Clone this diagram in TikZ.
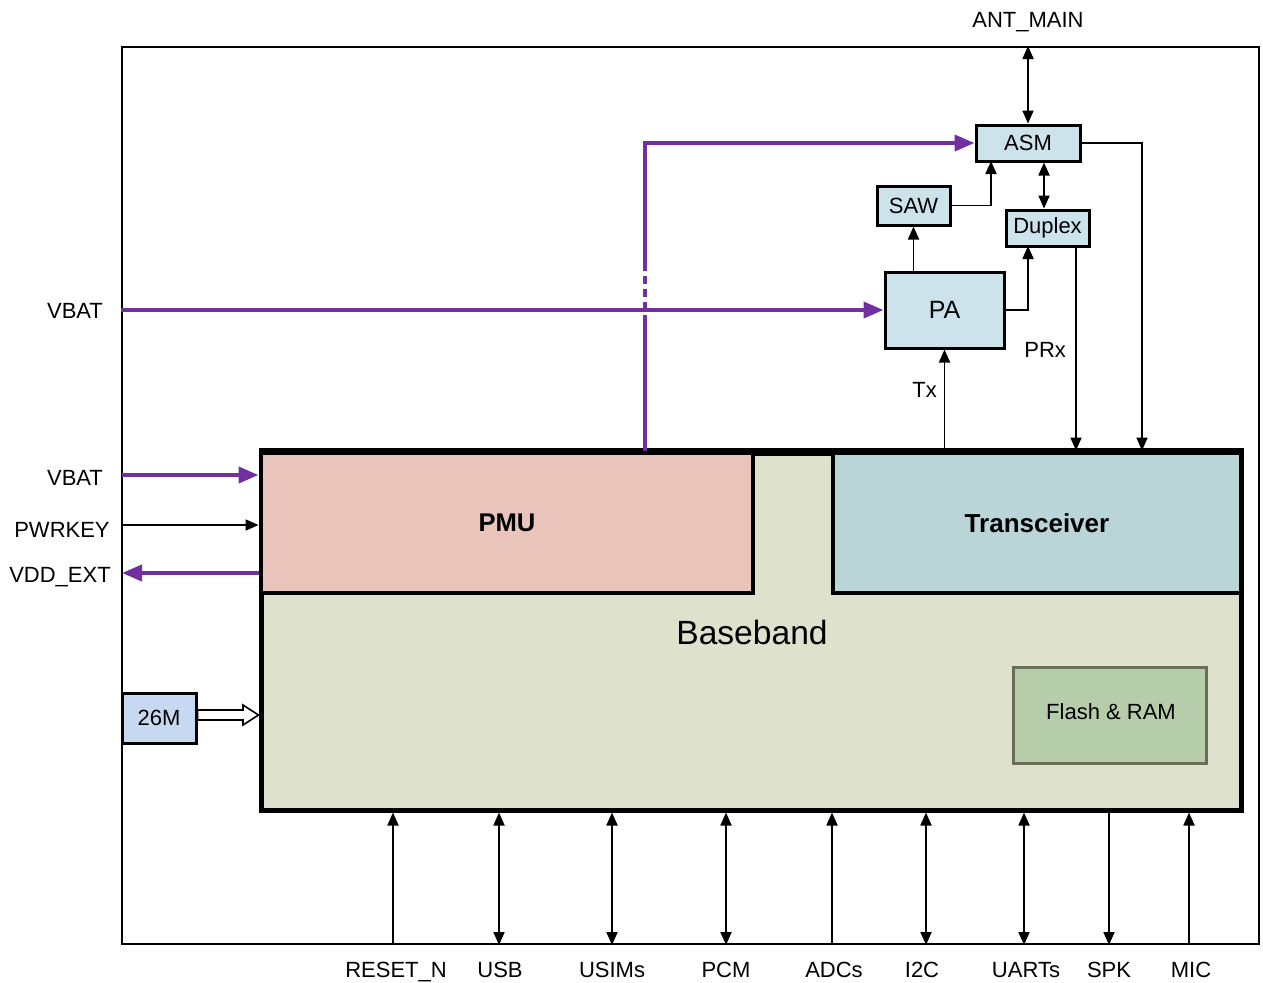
\documentclass[tikz,border=0pt]{standalone}
\usepackage{fontspec}
\setmainfont{Liberation Sans}
\usetikzlibrary{arrows.meta,fit}
\definecolor{pur}{HTML}{7030A0}
\definecolor{bbfill}{HTML}{DEE2CC}
\definecolor{pmufill}{HTML}{E9C4BB}
\definecolor{trfill}{HTML}{B9D5D7}
\definecolor{flfill}{HTML}{B6CDAC}
\definecolor{fldraw}{HTML}{6A6E56}
\definecolor{boxblue}{HTML}{CCE3EC}
\definecolor{osc}{HTML}{C6D9F1}
\begin{document}
\begin{tikzpicture}[x=0.5pt,y=-0.5pt,
  lbl/.style={font=\fontsize{11}{13}\selectfont, inner sep=0},
  box/.style={draw=black, line width=1.5pt, fill=boxblue, inner sep=0},
  arr/.style={line width=0.9pt, -{Triangle[length=6.5pt,width=5.5pt]}},
  barr/.style={line width=0.9pt, {Triangle[length=6.5pt,width=5.5pt]}-{Triangle[length=6.5pt,width=5.5pt]}},
  pline/.style={draw=pur, line width=2pt},
  parr/.style={pline, -{Triangle[length=10pt,width=8pt]}},
]
\useasboundingbox (0,0) rectangle (1263,982);

% outer frame
\node[draw=black, line width=1pt, inner sep=0, fit={(122,47)(1259,944)}] (frame) {};

% baseband and sub-blocks
\node[draw=black, line width=2.5pt, fill=bbfill, inner sep=0, fit={(261,453)(1241,810)}] (bb) {};
\node[draw=black, line width=1.7pt, fill=pmufill, inner sep=0, fit={(261,453)(753,593)}] (pmu) {};
\node[font=\bfseries\fontsize{12.8}{15}\selectfont, inner sep=0] (pmul) at (pmu.center) {PMU};
\node[draw=black, line width=1.7pt, fill=trfill, inner sep=0, fit={(833,453)(1241,593)}] (tr) {};
\node[font=\bfseries\fontsize{13}{15}\selectfont, inner sep=0] (trl) at (tr.center) {Transceiver};
\draw[line width=2.5pt] (bb.north west) -- (bb.north east);
\node[font=\fontsize{16.8}{19}\selectfont, inner sep=0] (bbl) at (752,632) {Baseband};
\node[draw=fldraw, line width=1.5pt, fill=flfill, inner sep=0, fit={(1013,667)(1206,763)}] (flash) {};
\node[lbl] (flashl) at (1111,712) {Flash \& RAM};

% RF boxes
\node[box, fit={(976,125)(1080,161)}] (asm) {};
\node[lbl] (asml) at (asm.center) {ASM};
\node[box, fit={(877,186)(950,225)}] (saw) {};
\node[lbl] (sawl) at (saw.center) {SAW};
\node[box, fit={(1006,210)(1089,246)}] (dup) {};
\node[lbl] (dupl) at (dup.center) {Duplex};
\node[box, fit={(885,272)(1004,348)}] (pa) {};
\node[lbl, font=\fontsize{12.5}{15}\selectfont] (pal) at (pa.center) {PA};

% 26M
\node[draw=black, line width=1.5pt, fill=osc, inner sep=0, fit={(122,693)(196,743)}] (osc) {};
\node[lbl] (oscl) at (osc.center) {26M};
\draw[line width=0.8pt, fill=white] (osc.east |- 0,710) -- (243,710) -- (243,705) -- (bb.west |- 0,715)
  -- (243,725) -- (243,720) -- (osc.east |- 0,720) -- cycle;

% coordinates
\coordinate (c1) at (991,161);
\coordinate (c2) at (1028,246);
\coordinate (dx) at (1044,0);
\coordinate (rx1) at (1076,0);
\coordinate (rx2) at (1142,0);
\coordinate (pv) at (645,0);
\coordinate (d1) at (645,323);
\coordinate (d2) at (645,268);

% RF connections
\draw[barr] (asm.north |- frame.north) -- (asm.north);
\node[lbl, anchor=base] (ant) at (1028,27) {ANT\_MAIN};
\draw[arr] (asm.east) -| (rx2 |- bb.north);
\draw[arr] (saw.east) -| (c1);
\draw[barr] (dx |- asm.south) -- (dx |- dup.north);
\draw[arr] (saw.south |- pa.north) -- (saw.south);
\draw[arr] (pa.east) -| (c2);
\draw[arr] (rx1 |- dup.south) -- (rx1 |- bb.north);
\node[lbl, anchor=base west] (prx) at (1024,357) {PRx};
\draw[arr] (pa.south |- bb.north) -- (pa.south);
\node[lbl, anchor=base west] (tx) at (912,397) {Tx};

% power lines
\draw[parr] (frame.west |- pa.west) -- (pa.west);
\node[lbl, anchor=base] (vbat1) at (75,318) {VBAT};
\draw[pline] (pv |- pmu.north) -- (d1);
\draw[pline, dash pattern=on 4pt off 2.5pt] (d1) -- (d2);
\draw[parr] (d2) |- (asm.west);

% left signals
\coordinate (l1) at (122,475);
\coordinate (l2) at (122,525);
\coordinate (l3) at (122,573);
\draw[parr] (l1) -- (l1 -| bb.west);
\node[lbl, anchor=base] (vbat2) at (75,485) {VBAT};
\draw[arr] (l2) -- (l2 -| bb.west);
\node[lbl, anchor=base] (pwr) at (62,537) {PWRKEY};
\draw[parr] (l3 -| bb.west) -- (l3);
\node[lbl, anchor=base] (vdd) at (60,582) {VDD\_EXT};

% bottom signals
\foreach \x/\lx/\name in {393/396/RESET\_N, 499/500/USB, 612/612/USIMs, 726/726/PCM,
    832/834/ADCs, 926/922/I2C, 1024/1026/UARTs, 1109/1109/SPK, 1189/1191/MIC}{
  \coordinate (b\x) at (\x,0);
  \node[lbl, anchor=base] (t\x) at (\lx,977) {\name};
}
\draw[arr] (b393 |- frame.south) -- (b393 |- bb.south);
\draw[barr] (b499 |- frame.south) -- (b499 |- bb.south);
\draw[barr] (b612 |- frame.south) -- (b612 |- bb.south);
\draw[barr] (b726 |- frame.south) -- (b726 |- bb.south);
\draw[arr] (b832 |- frame.south) -- (b832 |- bb.south);
\draw[barr] (b926 |- frame.south) -- (b926 |- bb.south);
\draw[barr] (b1024 |- frame.south) -- (b1024 |- bb.south);
\draw[arr] (b1109 |- bb.south) -- (b1109 |- frame.south);
\draw[arr] (b1189 |- frame.south) -- (b1189 |- bb.south);
\end{tikzpicture}
\end{document}
